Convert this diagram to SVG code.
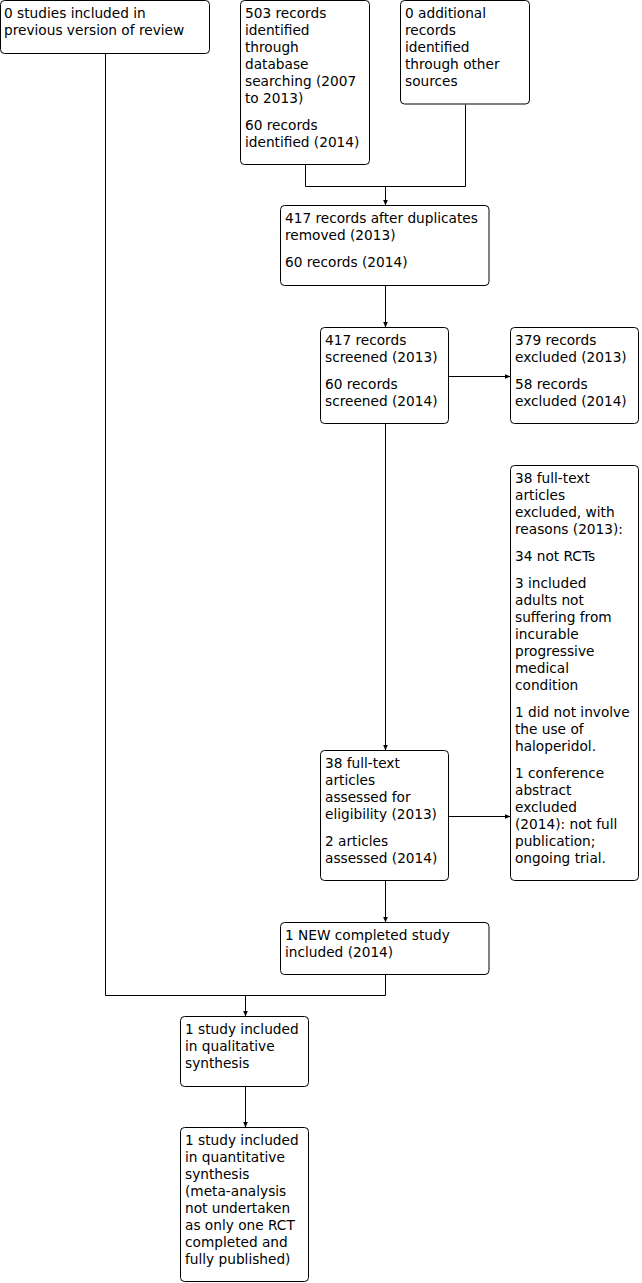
<svg xmlns="http://www.w3.org/2000/svg" width="642" height="1283" viewBox="0 0 642 1283">
<style>
.box{fill:#fff;stroke:#000;stroke-width:1}
.t{font-family:"DejaVu Sans",Verdana,sans-serif;font-size:13.7px;fill:#000}
.c{fill:none;stroke:#000;stroke-width:1}
</style>
<defs>
<marker id="ah" markerUnits="userSpaceOnUse" markerWidth="6" markerHeight="5" refX="6" refY="2.5" orient="auto">
<path d="M0,0 L6,2.5 L0,5 z" fill="#000"/>
</marker>
</defs>
<rect width="642" height="1283" fill="#fff"/>
<g id="connectors">
<path class="c" d="M105.5 53.5 V995.5 H385.5 V974.5"/>
<path class="c" d="M245.5 995.5 V1016.5" marker-end="url(#ah)"/>
<path class="c" d="M305.5 164.5 V186.5 H465.5 V104.5"/>
<path class="c" d="M385.5 186.5 V205.5" marker-end="url(#ah)"/>
<path class="c" d="M385.5 285.5 V327.5" marker-end="url(#ah)"/>
<path class="c" d="M448.5 376.5 H510.5" marker-end="url(#ah)"/>
<path class="c" d="M385.5 423.5 V750.5" marker-end="url(#ah)"/>
<path class="c" d="M448.5 816.5 H510.5" marker-end="url(#ah)"/>
<path class="c" d="M385.5 880.5 V922.5" marker-end="url(#ah)"/>
<path class="c" d="M245.5 1086.5 V1127.5" marker-end="url(#ah)"/>
</g>
<g id="n1">
<rect class="box" x="0.5" y="0.5" width="209" height="53" rx="4"/>
<text class="t" x="4" y="18">0 studies included in</text>
<text class="t" x="4" y="35">previous version of review</text>
</g>
<g id="n2">
<rect class="box" x="240.5" y="0.5" width="129" height="164" rx="4"/>
<text class="t" x="245" y="18">503 records</text>
<text class="t" x="245" y="35">identified</text>
<text class="t" x="245" y="52">through</text>
<text class="t" x="245" y="69">database</text>
<text class="t" x="245" y="86">searching (2007</text>
<text class="t" x="245" y="103">to 2013)</text>
<text class="t" x="245" y="130">60 records</text>
<text class="t" x="245" y="147">identified (2014)</text>
</g>
<g id="n3">
<rect class="box" x="400.5" y="0.5" width="129" height="103.5" rx="4"/>
<text class="t" x="405" y="18">0 additional</text>
<text class="t" x="405" y="35">records</text>
<text class="t" x="405" y="52">identified</text>
<text class="t" x="405" y="69">through other</text>
<text class="t" x="405" y="86">sources</text>
</g>
<g id="n4">
<rect class="box" x="280.5" y="205.5" width="208.5" height="80" rx="4"/>
<text class="t" x="285" y="223">417 records after duplicates</text>
<text class="t" x="285" y="240">removed (2013)</text>
<text class="t" x="285" y="267">60 records (2014)</text>
</g>
<g id="n5">
<rect class="box" x="320.5" y="327.5" width="128" height="96" rx="4"/>
<text class="t" x="325" y="345">417 records</text>
<text class="t" x="325" y="362">screened (2013)</text>
<text class="t" x="325" y="389">60 records</text>
<text class="t" x="325" y="406">screened (2014)</text>
</g>
<g id="n6">
<rect class="box" x="510.5" y="327.5" width="128" height="96" rx="4"/>
<text class="t" x="515" y="345">379 records</text>
<text class="t" x="515" y="362">excluded (2013)</text>
<text class="t" x="515" y="389">58 records</text>
<text class="t" x="515" y="406">excluded (2014)</text>
</g>
<g id="n7">
<rect class="box" x="510.5" y="465.5" width="128" height="415" rx="4"/>
<text class="t" x="515" y="483">38 full-text</text>
<text class="t" x="515" y="500">articles</text>
<text class="t" x="515" y="517">excluded, with</text>
<text class="t" x="515" y="534">reasons (2013):</text>
<text class="t" x="515" y="561">34 not RCTs</text>
<text class="t" x="515" y="588">3 included</text>
<text class="t" x="515" y="605">adults not</text>
<text class="t" x="515" y="622">suffering from</text>
<text class="t" x="515" y="639">incurable</text>
<text class="t" x="515" y="656">progressive</text>
<text class="t" x="515" y="673">medical</text>
<text class="t" x="515" y="690">condition</text>
<text class="t" x="515" y="717">1 did not involve</text>
<text class="t" x="515" y="734">the use of</text>
<text class="t" x="515" y="751">haloperidol.</text>
<text class="t" x="515" y="778">1 conference</text>
<text class="t" x="515" y="795">abstract</text>
<text class="t" x="515" y="812">excluded</text>
<text class="t" x="515" y="829">(2014): not full</text>
<text class="t" x="515" y="846">publication;</text>
<text class="t" x="515" y="863">ongoing trial.</text>
</g>
<g id="n8">
<rect class="box" x="320.5" y="750.5" width="128" height="130" rx="4"/>
<text class="t" x="325" y="768">38 full-text</text>
<text class="t" x="325" y="785">articles</text>
<text class="t" x="325" y="802">assessed for</text>
<text class="t" x="325" y="819">eligibility (2013)</text>
<text class="t" x="325" y="846">2 articles</text>
<text class="t" x="325" y="863">assessed (2014)</text>
</g>
<g id="n9">
<rect class="box" x="280.5" y="922.5" width="208.5" height="52" rx="4"/>
<text class="t" x="285" y="940">1 NEW completed study</text>
<text class="t" x="285" y="957">included (2014)</text>
</g>
<g id="n10">
<rect class="box" x="180.5" y="1016.5" width="128" height="70" rx="4"/>
<text class="t" x="185" y="1034">1 study included</text>
<text class="t" x="185" y="1051">in qualitative</text>
<text class="t" x="185" y="1068">synthesis</text>
</g>
<g id="n11">
<rect class="box" x="180.5" y="1127.5" width="128" height="154" rx="4"/>
<text class="t" x="185" y="1145">1 study included</text>
<text class="t" x="185" y="1162">in quantitative</text>
<text class="t" x="185" y="1179">synthesis</text>
<text class="t" x="185" y="1196">(meta-analysis</text>
<text class="t" x="185" y="1213">not undertaken</text>
<text class="t" x="185" y="1230">as only one RCT</text>
<text class="t" x="185" y="1247">completed and</text>
<text class="t" x="185" y="1264">fully published)</text>
</g>
</svg>
